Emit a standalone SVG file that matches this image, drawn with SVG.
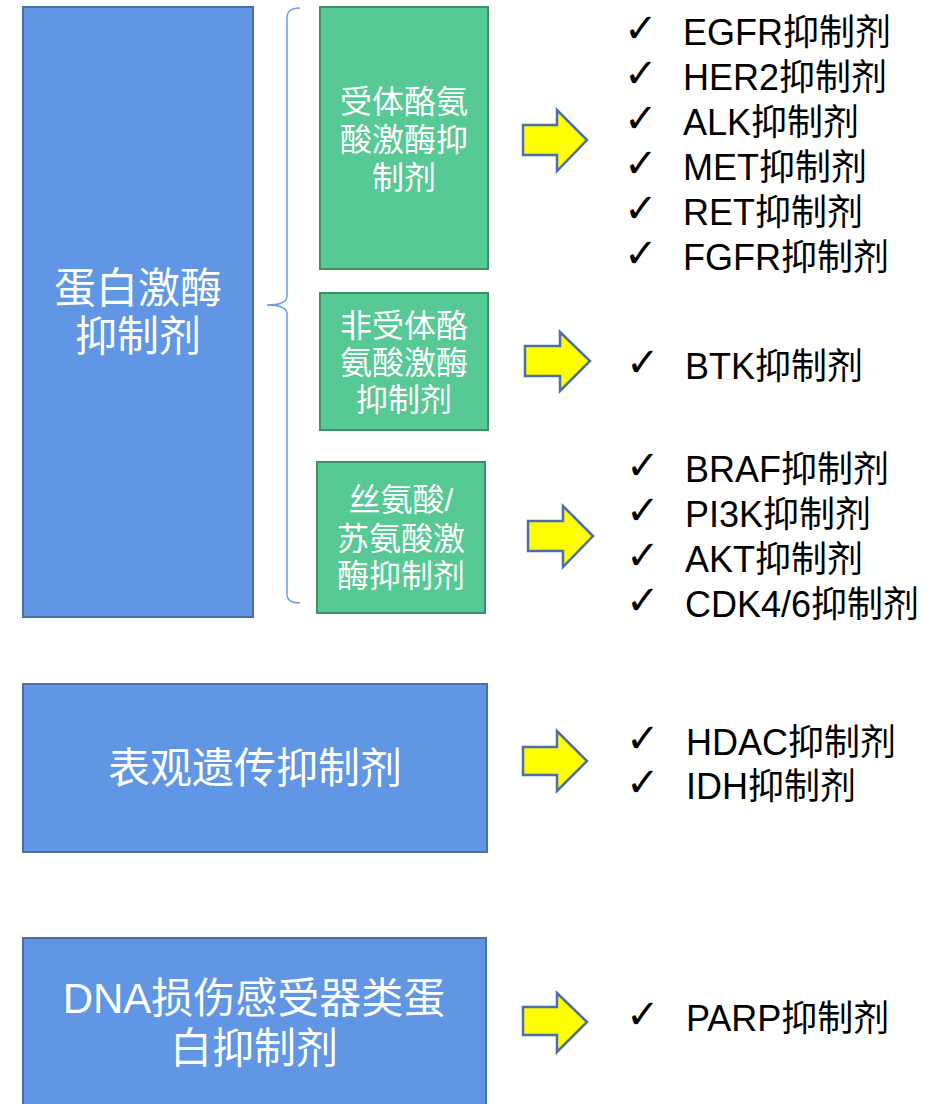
<svg xmlns="http://www.w3.org/2000/svg" width="948" height="1104" viewBox="0 0 948 1104">
<style>
.blue{fill:#6096E4;stroke:#4A70A8;stroke-width:2}
.green{fill:#56C994;stroke:#3F8F65;stroke-width:2}
.arrow{fill:#FFFF00;stroke:#4A6FAD;stroke-width:2.5;stroke-linejoin:miter}
.brace{fill:none;stroke:#6A9EE8;stroke-width:1.5}
.wt{fill:#FFFFFF;font-family:"Liberation Sans","Noto Sans CJK SC",sans-serif;text-anchor:middle}
.big{font-size:42px}
.mid{font-size:32px}
.li{fill:#000000;font-family:"Liberation Sans","Noto Sans CJK SC",sans-serif;font-size:36px}
.ck{fill:#000000;font-family:"DejaVu Sans",sans-serif;font-size:40px}
</style>
<g id="node-kinase">
<rect class="blue" x="23" y="7" width="230" height="610"/>
<text class="wt big" x="138" y="303">蛋白激酶</text>
<text class="wt big" x="138" y="351">抑制剂</text>
</g>
<g id="node-rtk">
<rect class="green" x="320" y="7" width="168" height="262"/>
<text class="wt mid" x="404" y="113">受体酪氨</text>
<text class="wt mid" x="404" y="151">酸激酶抑</text>
<text class="wt mid" x="404" y="189">制剂</text>
</g>
<g id="node-nrtk">
<rect class="green" x="320" y="293" width="168" height="137"/>
<text class="wt mid" x="404" y="337">非受体酪</text>
<text class="wt mid" x="404" y="374">氨酸激酶</text>
<text class="wt mid" x="404" y="411">抑制剂</text>
</g>
<g id="node-stk">
<rect class="green" x="317" y="462" width="168" height="151"/>
<text class="wt mid" x="401" y="511">丝氨酸/</text>
<text class="wt mid" x="401" y="550">苏氨酸激</text>
<text class="wt mid" x="401" y="587">酶抑制剂</text>
</g>
<g id="node-epi">
<rect class="blue" x="23" y="684" width="464" height="168"/>
<text class="wt big" x="255" y="783">表观遗传抑制剂</text>
</g>
<g id="node-dna">
<rect class="blue" x="23" y="938" width="463" height="180"/>
<text class="wt big" x="254" y="1013">DNA损伤感受器类蛋</text>
<text class="wt big" x="254" y="1063">白抑制剂</text>
</g>
<g id="connectors">
<path class="brace" d="M300,8 Q287,8 287,18 L287,296 Q287,305 267,305 Q287,305 287,314 L287,594 Q287,603 300,603"/>
<polygon class="arrow" points="523,125 557,125 557,110 587,140 557,171 557,155 523,155"/>
<polygon class="arrow" points="525,346 560,346 560,332 590,361 560,391 560,376 525,376"/>
<polygon class="arrow" points="528,521 563,521 563,506 593,536 563,567 563,551 528,551"/>
<polygon class="arrow" points="523,747 557,747 557,731 587,761 557,791 557,775 523,775"/>
<polygon class="arrow" points="523,1007 557,1007 557,993 587,1022 557,1052 557,1035 523,1035"/>
</g>
<g id="list-rtk">
<text class="ck" x="624" y="42">✓</text><text class="li" x="683" y="45">EGFR抑制剂</text>
<text class="ck" x="624" y="87">✓</text><text class="li" x="683" y="90">HER2抑制剂</text>
<text class="ck" x="624" y="132">✓</text><text class="li" x="683" y="135">ALK抑制剂</text>
<text class="ck" x="624" y="177">✓</text><text class="li" x="683" y="180">MET抑制剂</text>
<text class="ck" x="624" y="222">✓</text><text class="li" x="683" y="225">RET抑制剂</text>
<text class="ck" x="624" y="267">✓</text><text class="li" x="683" y="270">FGFR抑制剂</text>
</g>
<g id="list-nrtk">
<text class="ck" x="626" y="376">✓</text><text class="li" x="685" y="379">BTK抑制剂</text>
</g>
<g id="list-stk">
<text class="ck" x="626" y="479">✓</text><text class="li" x="685" y="482">BRAF抑制剂</text>
<text class="ck" x="626" y="524">✓</text><text class="li" x="685" y="527">PI3K抑制剂</text>
<text class="ck" x="626" y="569">✓</text><text class="li" x="685" y="572">AKT抑制剂</text>
<text class="ck" x="626" y="614">✓</text><text class="li" x="685" y="617">CDK4/6抑制剂</text>
</g>
<g id="list-epi">
<text class="ck" x="626" y="752">✓</text><text class="li" x="686" y="755">HDAC抑制剂</text>
<text class="ck" x="626" y="796">✓</text><text class="li" x="686" y="799">IDH抑制剂</text>
</g>
<g id="list-dna">
<text class="ck" x="626" y="1028">✓</text><text class="li" x="686" y="1031">PARP抑制剂</text>
</g>
</svg>
